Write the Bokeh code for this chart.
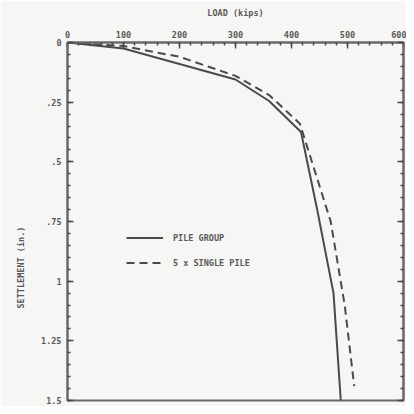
from bokeh.plotting import figure
from bokeh.models import Range1d, FixedTicker, Title, LinearAxis, Legend, LegendItem
from bokeh.embed import file_html
from bokeh.resources import INLINE

# data
load_group = [0, 100, 200, 300, 360, 417, 445, 475, 488]
settle_group = [0, 0.025, 0.09, 0.155, 0.245, 0.375, 0.69, 1.05, 1.5]
load_single5 = [0, 100, 200, 300, 360, 415, 470, 495, 512]
settle_single5 = [0, 0.015, 0.06, 0.14, 0.22, 0.34, 0.75, 1.1, 1.44]

x_ticks = [0, 100, 200, 300, 400, 500, 600]
x_minor = list(range(0, 601, 20))
y_ticks = [0, 0.25, 0.5, 0.75, 1.0, 1.25, 1.5]
y_minor = [i * 0.05 for i in range(31)]
y_tick_labels = ["0", ".25", ".5", ".75", "1", "1.25", "1.5"]

FONT = "DejaVu Sans Mono"
INK = "#4a4a4a"
TXT = "#5a5a5a"

p = figure(width=406, height=406, output_backend="svg", toolbar_location=None,
           x_range=Range1d(0, 600), y_range=Range1d(1.5, 0),
           x_axis_location="above", min_border_left=66, min_border_right=3,
           min_border_top=42, min_border_bottom=6)
p.background_fill_color = "#f6f6f4"
p.border_fill_color = "#f6f6f4"
p.outline_line_color = "#6a6a6a"
p.outline_line_width = 2
p.grid.visible = False

xa = p.xaxis[0]
xa.ticker = FixedTicker(ticks=x_ticks, minor_ticks=x_minor)
xa.axis_label = "LOAD (kips)"
ya = p.yaxis[0]
ya.ticker = FixedTicker(ticks=y_ticks, minor_ticks=y_minor)
ya.major_label_overrides = {t: s for t, s in zip(y_ticks, y_tick_labels)}
ya.major_label_orientation = "horizontal"


def style_ticks(ax):
    ax.axis_line_color = "#6a6a6a"
    ax.axis_line_width = 2
    ax.major_tick_in = 6
    ax.major_tick_out = 0
    ax.minor_tick_in = 3
    ax.minor_tick_out = 0
    ax.major_tick_line_color = INK
    ax.minor_tick_line_color = INK
    ax.major_tick_line_width = 1.5
    ax.minor_tick_line_width = 1.5


for ax in (xa, ya):
    style_ticks(ax)
    ax.major_label_text_font = FONT
    ax.major_label_text_font_size = "8.5px"
    ax.major_label_text_color = TXT
    ax.major_label_text_font_style = "bold"
    ax.axis_label_text_font = FONT
    ax.axis_label_text_font_size = "8.5px"
    ax.axis_label_text_color = TXT
    ax.axis_label_text_font_style = "bold"

xa.major_label_standoff = 5
xa.axis_label_standoff = 10
ya.major_label_standoff = 6

ra = LinearAxis(ticker=FixedTicker(ticks=y_ticks, minor_ticks=y_minor))
style_ticks(ra)
ra.major_label_overrides = {t: "" for t in y_ticks}
ra.major_label_standoff = 0
p.add_layout(ra, "right")

r1 = p.line(load_group, settle_group, line_color=INK, line_width=2)
r2 = p.line(load_single5, settle_single5, line_color=INK, line_width=2, line_dash="8 5")

leg = Legend(items=[LegendItem(label="PILE GROUP", renderers=[r1]),
                    LegendItem(label="5 x SINGLE PILE", renderers=[r2])],
             location=(59, 130), glyph_width=37, glyph_height=15, spacing=10,
             label_standoff=10, padding=0, margin=0,
             border_line_color=None, background_fill_alpha=0,
             label_text_font=FONT, label_text_font_size="8.5px",
             label_text_color=TXT, label_text_font_style="bold")
p.add_layout(leg, "center")

ytitle = Title(text="SETTLEMENT (in.)", align="left", offset=92,
               standoff=26, text_font=FONT, text_font_size="8.5px",
               text_color=TXT, text_font_style="bold")
p.add_layout(ytitle, "left")

open("out.html", "w").write(file_html(p, INLINE))
